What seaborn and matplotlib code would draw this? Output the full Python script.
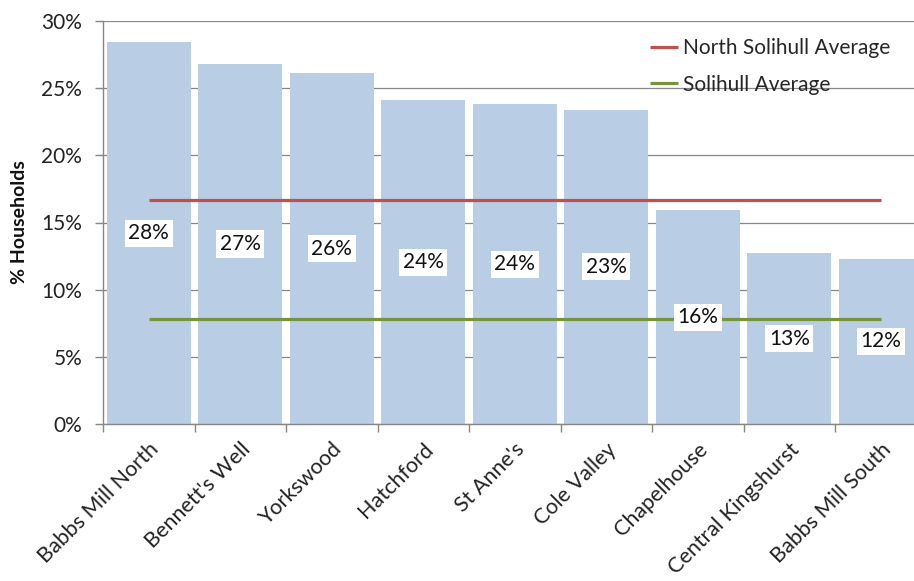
import matplotlib
matplotlib.use("Agg")
import matplotlib.pyplot as plt
import seaborn as sns
import pandas as pd
from matplotlib.ticker import FixedLocator, FuncFormatter

# Share of households by ward (%)
wards = ["Babbs Mill North", "Bennett's Well", "Yorkswood", "Hatchford",
         "St Anne's", "Cole Valley", "Chapelhouse", "Central Kingshurst",
         "Babbs Mill South"]
share = [28.4, 26.8, 26.1, 24.1, 23.8, 23.4, 15.9, 12.7, 12.3]
north_solihull_avg = 16.7
solihull_avg = 7.8
y_ticks = [0, 5, 10, 15, 20, 25, 30]

sns.set_theme(style="white")
plt.rcParams["font.family"] = ["Lato", "DejaVu Sans"]

fig = plt.figure(figsize=(9.14, 5.81), dpi=100)
ax = fig.add_axes([103 / 914, 157 / 581, 823.5 / 914, 403 / 581])

df = pd.DataFrame({"ward": wards, "share": share})
sns.barplot(data=df, x="ward", y="share", color="#B9CDE5", saturation=1,
            width=84 / 91.5, linewidth=0, ax=ax, zorder=2)

# Average reference lines spanning first to last ward
ax.plot([0, len(wards) - 1], [north_solihull_avg] * 2, color="#C0504D",
        lw=2.3, solid_capstyle="butt", label="North Solihull Average", zorder=3)
ax.plot([0, len(wards) - 1], [solihull_avg] * 2, color="#77933C",
        lw=2.3, solid_capstyle="butt", label="Solihull Average", zorder=3)

# Value labels centred in each bar
for i, v in enumerate(share):
    ax.text(i, v / 2, f"{v:.0f}%", ha="center", va="center", fontsize=15,
            color="#111111", zorder=5,
            bbox=dict(facecolor="white", edgecolor="none", pad=2.5))

ax.set_xlim(-0.5, len(wards) - 0.5)
ax.set_ylim(0, 30)
ax.yaxis.set_major_locator(FixedLocator(y_ticks))
ax.yaxis.set_major_formatter(FuncFormatter(lambda v, _: f"{v:.0f}%"))
ax.yaxis.grid(True, color="#868686", lw=0.9)
ax.set_axisbelow(True)

# Category ticks at bar boundaries, labels at bar centres
ax.set_xticks(range(len(wards)))
ax.set_xticks([i - 0.5 for i in range(len(wards) + 1)], minor=True)
ax.tick_params(axis="x", which="major", length=0, pad=11)
ax.tick_params(axis="x", which="minor", length=6, width=1, color="#868686",
               direction="out", bottom=True)
ax.tick_params(axis="y", length=6, width=1, color="#868686", direction="out",
               left=True, pad=9, labelsize=15, labelcolor="#222222")
ax.set_xticklabels(wards, rotation=45, ha="right", va="top",
                   rotation_mode="anchor", fontsize=15.5, color="#222222")

for side in ("top", "right"):
    ax.spines[side].set_visible(False)
for side in ("left", "bottom"):
    ax.spines[side].set_color("#868686")
    ax.spines[side].set_linewidth(1)

ax.set_xlabel("")
ax.set_ylabel("")
fig.text(20 / 914, 1 - 222 / 581, "% Households", rotation=90,
         fontweight="bold", fontsize=14, ha="center", va="center",
         color="#111111")

fig.legend(loc="upper left", bbox_to_anchor=(650 / 914, 1 - 38 / 581),
           frameon=False, fontsize=15, handlelength=1.35, handletextpad=0.25,
           labelspacing=0.8, borderaxespad=0, borderpad=0)

fig.savefig("out.png", dpi=100)
